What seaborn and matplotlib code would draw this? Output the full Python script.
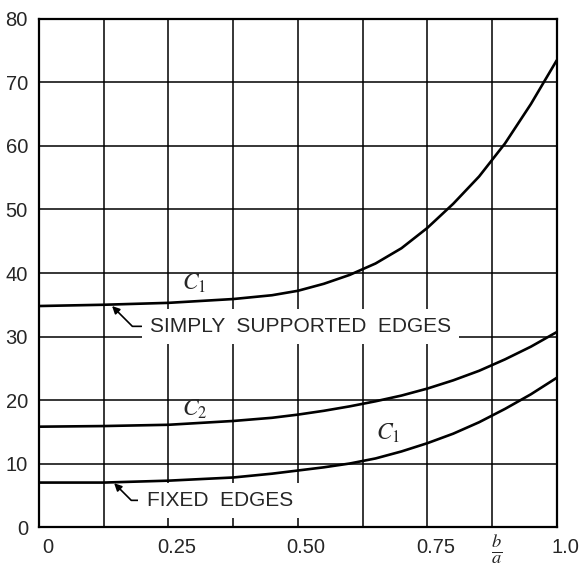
# -*- coding: utf-8 -*-
import numpy as np
import pandas as pd
import seaborn as sns
import matplotlib.pyplot as plt
from matplotlib.transforms import ScaledTranslation

# values (b/a ratio vs coefficient)
ratio = [0, 0.125, 0.25, 0.375, 0.45, 0.5, 0.55, 0.6, 0.65, 0.7, 0.75,
         0.8, 0.85, 0.9, 0.95, 1.0]
c1_simply = [34.8, 35.0, 35.3, 35.9, 36.5, 37.2, 38.3, 39.7, 41.5, 43.9, 47.1,
             50.9, 55.2, 60.4, 66.6, 73.5]
c2_simply = [15.8, 15.9, 16.1, 16.7, 17.2, 17.7, 18.3, 19.0, 19.8, 20.7, 21.8,
             23.1, 24.6, 26.4, 28.4, 30.7]
c1_fixed = [7.0, 7.0, 7.3, 7.8, 8.4, 8.9, 9.4, 10.0, 10.8, 11.9, 13.2,
            14.7, 16.5, 18.6, 20.9, 23.5]

x_grid = [0, 0.125, 0.25, 0.375, 0.5, 0.625, 0.75, 0.875, 1.0]
x_labels = ['0', '', '0.25', '', '0.50', '', '0.75', r'$\frac{b}{a}$', '1.0']
y_ticks = [0, 10, 20, 30, 40, 50, 60, 70, 80]

sns.set_style('white')
plt.rcParams['font.family'] = ['Liberation Sans', 'DejaVu Sans']
plt.rcParams['mathtext.fontset'] = 'stix'

fig = plt.figure(figsize=(5.83, 5.70), dpi=100)
ax = fig.add_axes([0.067, 0.0754, 0.888, 0.8913])

for vals in [c1_simply, c2_simply, c1_fixed]:
    df = pd.DataFrame({'ratio': ratio, 'c': vals})
    sns.lineplot(data=df, x='ratio', y='c', color='black', lw=1.9, ax=ax, zorder=5)

ax.set_xlim(0, 1.0)
ax.set_ylim(0, 80)
ax.set_xticks(x_grid)
ax.set_xticklabels(x_labels, fontsize=14.5)
ax.set_yticks(y_ticks)
ax.set_yticklabels([str(v) for v in y_ticks], fontsize=14.5)
ax.set_xlabel('')
ax.set_ylabel('')
ax.tick_params(length=0, pad=8)
ax.grid(True, color='black', lw=1.1, zorder=0)
ax.set_axisbelow(True)
for s in ax.spines.values():
    s.set_color('black')
    s.set_linewidth(1.6)

for lab in ax.get_xticklabels():
    lab.set_transform(lab.get_transform() + ScaledTranslation(6/72, 0, fig.dpi_scale_trans))
frac = ax.get_xticklabels()[7]
frac.set_fontsize(19)
frac.set_transform(frac.get_transform() + ScaledTranslation(-3/72, 5/72, fig.dpi_scale_trans))

box = dict(boxstyle='square,pad=0.4', fc='white', ec='none')
arr = dict(arrowstyle='-|>', color='black', lw=1.2, mutation_scale=11,
           shrinkA=0, shrinkB=0, connectionstyle='angle,angleA=0,angleB=-45,rad=0')
ax.annotate('SIMPLY  SUPPORTED  EDGES', xy=(0.141, 34.8), xytext=(0.214, 31.6),
            fontsize=15, va='center', ha='left', bbox=box, arrowprops=arr, zorder=3)
ax.annotate('FIXED  EDGES', xy=(0.145, 6.9), xytext=(0.208, 4.2),
            fontsize=15, va='center', ha='left', bbox=box, arrowprops=arr, zorder=3)

ax.text(0.30, 38.4, r'$C_1$', fontsize=17, ha='center', va='center', zorder=6)
ax.text(0.30, 18.6, r'$C_2$', fontsize=17, ha='center', va='center', zorder=6)
ax.text(0.675, 14.8, r'$C_1$', fontsize=17, ha='center', va='center', zorder=6)

plt.savefig('out.png', dpi=100)
